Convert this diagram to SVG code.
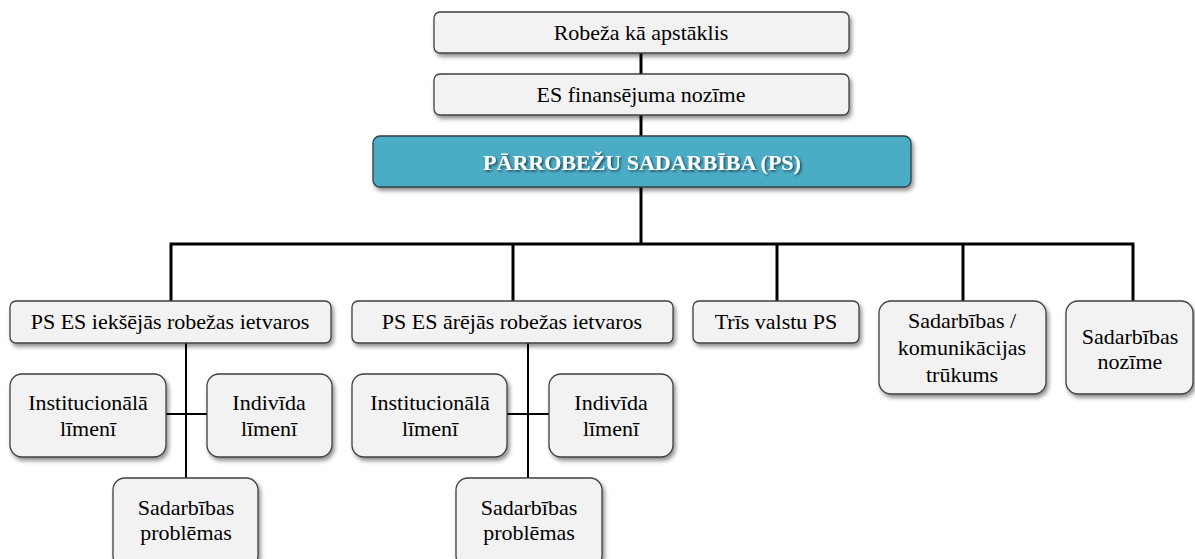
<svg xmlns="http://www.w3.org/2000/svg" width="1195" height="559" viewBox="0 0 1195 559" font-family="Liberation Serif">
<defs>
<filter id="sh" x="-10%" y="-20%" width="130%" height="150%">
<feDropShadow dx="2" dy="3" stdDeviation="2" flood-color="#000" flood-opacity="0.45"/>
</filter>
<filter id="tsh" x="-10%" y="-30%" width="120%" height="160%">
<feDropShadow dx="1.5" dy="1.5" stdDeviation="1" flood-color="#000" flood-opacity="0.6"/>
</filter>
</defs>
<style>
.box{fill:#F2F2F2;stroke:#404040;stroke-width:1.3;filter:url(#sh)}
.main{fill:#4BACC6;stroke:#2f3f45;stroke-width:1.3;filter:url(#sh)}
.thick{stroke:#000;stroke-width:3;fill:none}
.thin{stroke:#000;stroke-width:2;fill:none}
</style>
<g id="connectors">
<line class="thick" x1="641" y1="53" x2="641" y2="74"/>
<line class="thick" x1="641" y1="115" x2="641" y2="136"/>
<line class="thick" x1="641" y1="187" x2="641" y2="244"/>
<polyline class="thick" points="171,301 171,244 1133,244 1133,301"/>
<line class="thick" x1="513" y1="244" x2="513" y2="301"/>
<line class="thick" x1="777" y1="244" x2="777" y2="301"/>
<line class="thick" x1="963" y1="244" x2="963" y2="301"/>
<line class="thin" x1="186" y1="343" x2="186" y2="478"/>
<line class="thin" x1="166" y1="414" x2="207" y2="414"/>
<line class="thin" x1="528" y1="343" x2="528" y2="478"/>
<line class="thin" x1="507" y1="414" x2="549" y2="414"/>
</g>
<g id="n1"><rect class="box" x="434" y="12" width="415" height="41" rx="6"/><text font-family="Liberation Serif" font-size="22" text-anchor="middle" x="641" y="40">Robeža kā apstāklis</text></g>
<g id="n2"><rect class="box" x="434" y="74" width="415" height="41" rx="6"/><text font-family="Liberation Serif" font-size="22" text-anchor="middle" x="641" y="102">ES finansējuma nozīme</text></g>
<g id="n3"><rect class="main" x="373" y="136" width="538" height="51" rx="7"/><text font-family="Liberation Serif" font-size="22" font-weight="bold" fill="#fff" filter="url(#tsh)" text-anchor="middle" x="642" y="170">PĀRROBEŽU SADARBĪBA (PS)</text></g>
<g id="n4"><rect class="box" x="10" y="301" width="321" height="42" rx="6"/><text font-family="Liberation Serif" font-size="22" text-anchor="middle" x="170" y="329">PS ES iekšējās robežas ietvaros</text></g>
<g id="n5"><rect class="box" x="352" y="301" width="321" height="42" rx="6"/><text font-family="Liberation Serif" font-size="22" text-anchor="middle" x="512" y="329">PS ES ārējās robežas ietvaros</text></g>
<g id="n6"><rect class="box" x="693" y="301" width="166" height="42" rx="6"/><text font-family="Liberation Serif" font-size="22" text-anchor="middle" x="776" y="329">Trīs valstu PS</text></g>
<g id="n7"><rect class="box" x="879" y="301" width="167" height="93" rx="12"/><text font-family="Liberation Serif" font-size="22" text-anchor="middle" x="962" y="328">Sadarbības /</text><text font-family="Liberation Serif" font-size="22" text-anchor="middle" x="962" y="355">komunikācijas</text><text font-family="Liberation Serif" font-size="22" text-anchor="middle" x="962" y="382">trūkums</text></g>
<g id="n8"><rect class="box" x="1066" y="301" width="127" height="93" rx="12"/><text font-family="Liberation Serif" font-size="22" text-anchor="middle" x="1130" y="344">Sadarbības</text><text font-family="Liberation Serif" font-size="22" text-anchor="middle" x="1130" y="369">nozīme</text></g>
<g id="n9"><rect class="box" x="10" y="374" width="156" height="83" rx="12"/><text font-family="Liberation Serif" font-size="22" text-anchor="middle" x="88" y="410">Institucionālā</text><text font-family="Liberation Serif" font-size="22" text-anchor="middle" x="88" y="436">līmenī</text></g>
<g id="n10"><rect class="box" x="207" y="374" width="125" height="83" rx="12"/><text font-family="Liberation Serif" font-size="22" text-anchor="middle" x="269" y="410">Indivīda</text><text font-family="Liberation Serif" font-size="22" text-anchor="middle" x="269" y="436">līmenī</text></g>
<g id="n11"><rect class="box" x="113" y="478" width="145" height="90" rx="12"/><text font-family="Liberation Serif" font-size="22" text-anchor="middle" x="186" y="515">Sadarbības</text><text font-family="Liberation Serif" font-size="22" text-anchor="middle" x="186" y="540">problēmas</text></g>
<g id="n12"><rect class="box" x="352" y="374" width="155" height="83" rx="12"/><text font-family="Liberation Serif" font-size="22" text-anchor="middle" x="430" y="410">Institucionālā</text><text font-family="Liberation Serif" font-size="22" text-anchor="middle" x="430" y="436">līmenī</text></g>
<g id="n13"><rect class="box" x="549" y="374" width="124" height="83" rx="12"/><text font-family="Liberation Serif" font-size="22" text-anchor="middle" x="611" y="410">Indivīda</text><text font-family="Liberation Serif" font-size="22" text-anchor="middle" x="611" y="436">līmenī</text></g>
<g id="n14"><rect class="box" x="456" y="478" width="146" height="90" rx="12"/><text font-family="Liberation Serif" font-size="22" text-anchor="middle" x="529" y="515">Sadarbības</text><text font-family="Liberation Serif" font-size="22" text-anchor="middle" x="529" y="540">problēmas</text></g>
</svg>
